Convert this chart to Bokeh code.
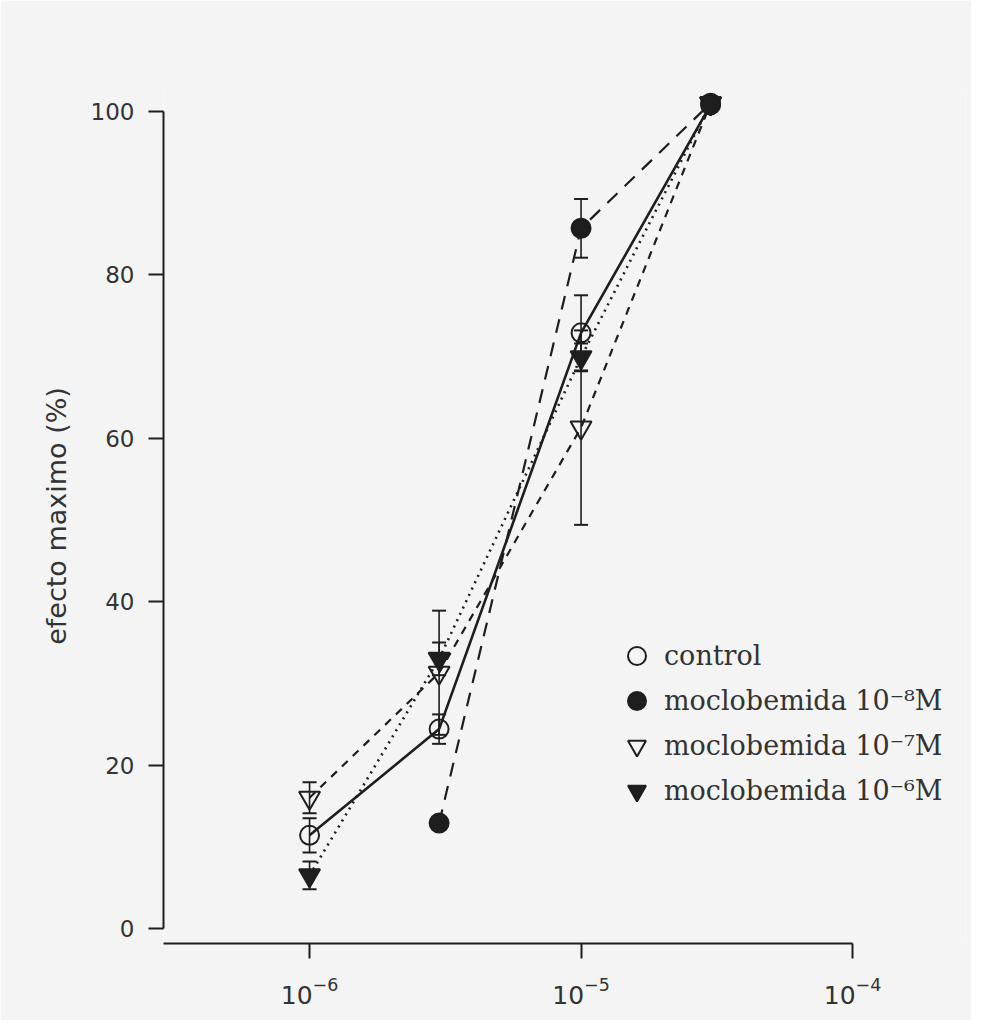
from bokeh.plotting import figure
from bokeh.models import (Range1d, FixedTicker, Whisker, TeeHead, ColumnDataSource,
                          Legend, LegendItem, LogTickFormatter)
from bokeh.embed import file_html
from bokeh.resources import INLINE

# ---- data ----
dose = [1e-6, 3e-6, 1e-5, 3e-5]
dose_m8 = [3e-6, 1e-5, 3e-5]

control = [11.4, 24.4, 72.9, 100.8]
control_err = [2.1, 1.8, 4.6, 0.8]

moclo_m8 = [12.9, 85.7, 101.0]
moclo_m8_err = [0.0, 3.6, 0.8]

moclo_m7 = [16.0, 31.3, 61.3, 101.0]
moclo_m7_err = [1.9, 7.6, 11.9, 0.8]

moclo_m6 = [6.5, 33.0, 69.9, 101.0]
moclo_m6_err = [1.7, 2.0, 1.7, 0.8]

y_ticks = [0, 20, 40, 60, 80, 100]
x_ticks = [1e-6, 1e-5, 1e-4]

labels = ["control", "moclobemida 10\u207b\u2078M", "moclobemida 10\u207b\u2077M",
          "moclobemida 10\u207b\u2076M"]

BG = "#f4f4f4"
INK = "#1e1e1e"
TXT = "#333333"

X_START = 10 ** -6.538
X_END = 10 ** -3.584

p = figure(width=971, height=1020, x_axis_type="log",
           x_range=Range1d(X_START, X_END), y_range=Range1d(-1.84, 102.81),
           output_backend="svg", toolbar_location=None,
           min_border_left=163, min_border_right=6, min_border_top=88,
           min_border_bottom=77)
p.background_fill_color = BG
p.border_fill_color = BG
p.outline_line_color = None
p.grid.visible = False

# axes
p.yaxis.bounds = (0, 100)
p.yaxis.ticker = FixedTicker(ticks=y_ticks)
p.yaxis.axis_label = "efecto maximo (%)"
p.yaxis.axis_label_text_font = "DejaVu Sans"
p.yaxis.axis_label_text_font_size = "27px"
p.yaxis.axis_label_text_font_style = "normal"
p.yaxis.axis_label_text_color = TXT
p.yaxis.axis_label_standoff = 16
p.yaxis.major_label_standoff = 14

p.xaxis.bounds = (X_START, 1e-4)
p.xaxis.ticker = FixedTicker(ticks=x_ticks)
p.xaxis.formatter = LogTickFormatter()
p.xaxis.major_label_standoff = 18

for ax in (p.xaxis, p.yaxis):
    ax.axis_line_width = 2
    ax.axis_line_color = INK
    ax.major_tick_line_width = 2
    ax.major_tick_line_color = INK
    ax.major_tick_out = 15
    ax.major_tick_in = 0
    ax.minor_tick_out = 0
    ax.minor_tick_in = 0
    ax.major_label_text_font = "DejaVu Sans"
    ax.major_label_text_font_size = "23px"
    ax.major_label_text_color = TXT
p.xaxis.major_label_text_font_size = "25px"

series = [
    (dose, control, control_err, "solid", 2.6, "circle", None),
    (dose_m8, moclo_m8, moclo_m8_err, "14 10", 2.2, "circle", INK),
    (dose, moclo_m7, moclo_m7_err, "8 7", 2.2, "inverted_triangle", None),
    (dose, moclo_m6, moclo_m6_err, "2 5", 2.6, "inverted_triangle", INK),
]

# lines
for xs, ys, es, dash, lw, mk, fc in series:
    p.line(xs, ys, line_color=INK, line_width=lw, line_dash=dash)

# error bars
for xs, ys, es, dash, lw, mk, fc in series:
    src = ColumnDataSource(dict(x=xs, upper=[a + b for a, b in zip(ys, es)],
                                lower=[a - b for a, b in zip(ys, es)]))
    w = Whisker(base="x", upper="upper", lower="lower", source=src, dimension="height",
                line_color=INK, line_width=1.6,
                upper_head=TeeHead(size=14, line_width=2, line_color=INK),
                lower_head=TeeHead(size=14, line_width=2, line_color=INK))
    p.add_layout(w)

# markers
renderers = []
for xs, ys, es, dash, lw, mk, fc in series:
    size = 19 if mk == "circle" else 21
    r = p.scatter(xs, ys, marker=mk, size=size, line_color=INK, line_width=2,
                  fill_color=fc if fc else None)
    renderers.append(r)

legend = Legend(items=[LegendItem(label=l, renderers=[r]) for l, r in zip(labels, renderers)],
                location=(451, 130), orientation="vertical",
                glyph_width=45, glyph_height=45, spacing=0, padding=0, margin=0,
                label_standoff=5, label_text_font="DejaVu Serif",
                label_text_font_size="27px", label_text_color=TXT,
                border_line_color=None, background_fill_alpha=0)
p.add_layout(legend, "center")

open("out.html", "w").write(file_html(p, INLINE))
